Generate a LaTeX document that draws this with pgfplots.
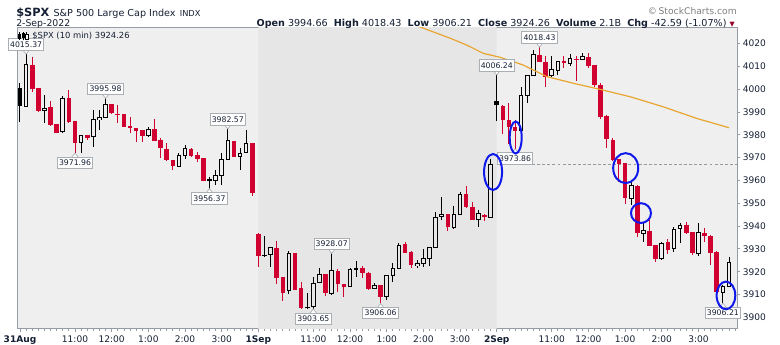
\documentclass[border=0pt]{standalone}
\usepackage{fontspec}
\setmainfont{DejaVu Sans}
\usepackage{pgfplots}
\pgfplotsset{compat=1.18}
\usepackage{pgfplotstable}

\definecolor{bgA}{RGB}{239,239,239}
\definecolor{bgB}{RGB}{230,230,230}
\definecolor{cred}{RGB}{208,0,48}
\definecolor{frm}{RGB}{150,156,163}
\definecolor{navy}{RGB}{22,32,52}
\definecolor{mac}{RGB}{232,165,48}
\definecolor{ell}{RGB}{15,25,235}
\definecolor{lblc}{RGB}{170,175,180}
\definecolor{dred}{RGB}{150,0,40}

\pgfplotstableread{
u o h l c t
0 4000.3 4002.5 3985.7 3992.6 1
1 3992.6 4015.37 3992.0 4010.6 2
2 4010.6 4014.2 3998.9 3999.9 0
3 4000.3 4000.5 3990.0 3990.6 0
4 3990.6 3997.4 3985.3 3991.6 2
5 3992.0 3994.8 3984.0 3984.3 0
6 3984.6 3984.8 3980.6 3980.9 0
7 3981.3 3997.0 3980.9 3996.0 2
8 3996.0 3999.6 3985.0 3985.7 0
9 3986.0 3986.2 3971.96 3976.5 0
10 3976.7 3979.9 3972.2 3979.7 2
11 3979.7 3980.0 3977.8 3978.4 0
12 3979.2 3990.8 3974.8 3986.5 2
13 3986.5 3990.8 3982.1 3987.6 2
14 3987.6 3995.98 3987.4 3993.5 2
15 3993.5 3993.7 3989.0 3989.4 0
16 3989.1 3993.0 3985.0 3988.8 0
17 3989.0 3989.2 3983.3 3983.5 0
18 3983.8 3987.9 3980.6 3983.0 0
19 3983.0 3983.2 3977.0 3981.8 0
20 3982.0 3982.2 3977.0 3979.5 0
21 3979.7 3983.5 3979.2 3982.4 2
22 3982.4 3986.8 3977.2 3977.4 0
23 3977.7 3978.4 3969.7 3974.0 0
24 3974.0 3976.2 3968.6 3968.9 0
25 3968.9 3969.1 3964.6 3966.3 0
26 3966.0 3972.2 3965.8 3971.1 2
27 3970.8 3975.5 3969.2 3974.0 2
28 3974.0 3974.2 3970.4 3970.7 0
29 3971.1 3972.6 3968.2 3969.4 0
30 3969.7 3969.9 3959.7 3959.9 0
31 3960.4 3961.6 3956.37 3960.1 1
32 3960.2 3964.6 3958.0 3962.1 2
33 3962.1 3971.9 3958.0 3969.2 2
34 3969.2 3982.57 3968.9 3977.3 2
35 3977.3 3977.5 3970.1 3970.4 0
36 3970.4 3974.0 3964.6 3971.9 2
37 3972.2 3982.1 3971.9 3976.3 2
38 3976.3 3976.5 3953.0 3954.4 0
39 3936.7 3936.9 3921.9 3926.9 0
40 3927.5 3935.7 3926.6 3927.1 1
41 3927.5 3930.9 3921.9 3930.7 2
42 3930.4 3933.5 3914.6 3917.4 0
43 3917.6 3917.8 3907.3 3910.8 0
44 3911.6 3929.1 3910.1 3928.0 2
45 3928.0 3928.2 3911.8 3912.0 0
46 3912.7 3915.5 3903.7 3904.0 0
47 3904.6 3910.5 3903.8 3904.3 1
48 3904.7 3917.5 3903.65 3914.9 2
49 3915.2 3921.5 3914.9 3918.9 2
50 3918.9 3919.1 3909.4 3910.5 0
51 3910.5 3928.07 3910.0 3920.5 2
52 3920.5 3921.0 3911.3 3914.5 0
53 3914.6 3914.8 3909.0 3913.5 0
54 3913.5 3921.5 3913.3 3921.0 2
55 3921.5 3924.9 3917.8 3921.2 1
56 3921.5 3922.5 3917.1 3919.6 0
57 3919.6 3919.8 3911.9 3912.4 0
58 3912.7 3915.2 3912.4 3914.0 2
59 3914.0 3914.2 3906.06 3909.0 0
60 3909.0 3918.5 3907.6 3918.3 2
61 3918.3 3923.7 3915.6 3921.5 2
62 3921.5 3932.7 3921.3 3931.6 2
63 3932.2 3933.0 3928.2 3928.4 0
64 3928.8 3929.0 3921.5 3923.0 0
65 3922.6 3925.1 3921.5 3923.7 2
66 3923.7 3929.8 3922.2 3925.6 2
67 3925.6 3930.9 3922.5 3930.7 2
68 3930.7 3946.3 3930.5 3943.8 2
69 3944.1 3952.6 3942.7 3945.2 2
70 3945.2 3945.4 3938.0 3939.5 0
71 3939.5 3948.8 3938.6 3944.9 2
72 3944.9 3955.1 3944.7 3953.9 2
73 3953.9 3957.6 3948.0 3948.2 0
74 3948.2 3950.7 3942.5 3942.7 0
75 3942.7 3947.0 3939.5 3945.3 2
76 3944.9 3945.1 3942.4 3943.8 0
77 3943.8 3969.5 3943.6 3966.85 2
78 3994.66 4006.24 3986.0 3993.2 1
79 3992.7 3993.0 3980.2 3986.5 0
80 3986.5 3993.8 3975.9 3983.3 0
81 3983.3 3986.5 3973.86 3981.8 0
82 3981.8 4001.1 3981.6 3997.4 2
83 3997.4 4005.9 3993.8 4005.8 2
84 4005.8 4017.0 4005.6 4015.0 2
85 4015.0 4018.43 4011.8 4012.0 0
86 4012.0 4014.7 4001.1 4005.5 0
87 4006.2 4014.7 4005.5 4008.7 2
88 4008.1 4012.5 4006.2 4012.0 2
89 4012.3 4014.5 4009.1 4011.3 0
90 4011.3 4015.4 4010.1 4013.5 2
91 4013.3 4014.5 4003.7 4013.0 0
92 4013.2 4015.7 4013.0 4014.2 2
93 4013.9 4015.7 4009.4 4010.3 0
94 4010.6 4010.8 4001.1 4001.8 0
95 4001.8 4002.5 3986.8 3987.6 0
96 3988.2 3988.7 3974.1 3978.0 0
97 3977.7 3978.4 3968.7 3968.9 0
98 3969.2 3969.5 3959.5 3967.1 0
99 3967.5 3967.8 3949.7 3952.2 0
100 3952.2 3960.2 3949.2 3957.6 2
101 3957.6 3957.8 3935.1 3936.8 0
102 3936.8 3941.2 3933.2 3937.9 2
103 3937.9 3944.1 3931.2 3931.4 0
104 3931.7 3931.9 3924.4 3925.6 0
105 3925.6 3933.2 3925.1 3932.4 2
106 3933.2 3934.2 3927.8 3929.5 0
107 3930.0 3939.7 3928.8 3938.3 2
108 3939.0 3941.5 3932.7 3940.2 2
109 3940.5 3941.6 3936.5 3936.8 0
110 3937.3 3937.6 3927.3 3928.1 0
111 3928.1 3941.5 3927.0 3937.3 2
112 3937.1 3939.0 3933.2 3935.7 0
113 3935.7 3935.9 3923.0 3928.4 0
114 3928.8 3929.0 3910.8 3910.9 0
115 3910.9 3914.2 3906.21 3913.5 2
116 3913.5 3926.3 3913.3 3924.26 2
}\spx

\tikzset{lbl/.style={draw=lblc, fill=white, line width=0.6pt,
  font=\fontsize{5.8}{6}\selectfont, text=navy, inner xsep=1.3pt,
  inner ysep=0pt, minimum height=8.4pt}}
\newcommand{\hilab}[3]{%
  \draw[draw=lblc, fill=white, line width=0.5pt] (axis cs:#1,#2) ++(-2.4pt,3pt) -- ++(2.4pt,-3pt) -- ++(2.4pt,3pt);
  \node[lbl, anchor=south, yshift=2.7pt] at (axis cs:#1,#2) {#3};}
\newcommand{\lolab}[3]{%
  \draw[draw=lblc, fill=white, line width=0.5pt] (axis cs:#1,#2) ++(-2.4pt,-3pt) -- ++(2.4pt,3pt) -- ++(2.4pt,-3pt);
  \node[lbl, anchor=north, yshift=-2.7pt] at (axis cs:#1,#2) {#3};}

\begin{document}
\begin{tikzpicture}
\path[use as bounding box, fill=white] (-12.75pt,-12pt) rectangle (572.25pt,246.75pt);
\begin{axis}[
  at={(0pt,0pt)}, anchor=south west,
  scale only axis, width=540pt, height=225.75pt,
  xmin=-0.49, xmax=117.31, ymin=3894.9, ymax=4026.8,
  axis background/.style={fill=bgA},
  axis line style={frm, line width=0.75pt},
  xtick={0,9,15,21,27,33,39,48,54,60,66,72,78,87,93,99,105,111},
  xticklabels={\textbf{31Aug},11:00,12:00,1:00,2:00,3:00,\textbf{1Sep},11:00,12:00,1:00,2:00,3:00,\textbf{2Sep},11:00,12:00,1:00,2:00,3:00},
  minor xtick={0,...,117},
  ytick={3900,3910,...,4020},
  xtick pos=bottom, ytick pos=right, yticklabel pos=right,
  tick align=outside,
  major tick length=2.4pt, minor tick length=1.2pt,
  tick style={frm, line width=0.6pt},
  ticklabel style={font=\fontsize{6.8}{8}\selectfont, text=navy},
  xticklabel style={yshift=1pt},
  yticklabel style={xshift=-1.5pt},
  /pgf/number format/.cd, fixed, 1000 sep={}, assume math mode=true, /pgfplots/.cd,
  scaled y ticks=false,
  clip mode=individual,
  legend style={at={(0,1)}, anchor=north west, draw=none, fill=none,
    inner sep=0pt, xshift=0.5pt, yshift=-1pt,
    font=\fontsize{6.3}{7}\selectfont, text=navy,
    /tikz/every odd column/.append style={column sep=1.2pt}},
  legend cell align=left,
]
% day 2 shading
\addplot[fill=bgB, draw=none, forget plot] coordinates {(39,3880) (78,3880) (78,4040) (39,4040) (39,3880)};
% previous close dashed
\addplot[forget plot, color=gray!80, line width=0.6pt, dash pattern=on 2.2pt off 1.6pt] coordinates {(78,3966.85) (118,3966.85)};
% wicks
\addplot[draw=none, mark=none, forget plot, restrict expr to domain={\thisrow{t}}{0:0},
  error bars/y dir=both, error bars/y explicit, error bars/error mark=none,
  error bars/error bar style={draw=cred, line width=0.75pt}]
  table[x=u, y expr={(\thisrow{h}+\thisrow{l})/2}, y error expr={(\thisrow{h}-\thisrow{l})/2}] {\spx};
\addplot[draw=none, mark=none, forget plot, restrict expr to domain={\thisrow{t}}{1:2},
  error bars/y dir=both, error bars/y explicit, error bars/error mark=none,
  error bars/error bar style={draw=black, line width=0.75pt}]
  table[x=u, y expr={(\thisrow{h}+\thisrow{l})/2}, y error expr={(\thisrow{h}-\thisrow{l})/2}] {\spx};
% bodies
\addplot[draw=none, mark=none, forget plot, restrict expr to domain={\thisrow{t}}{0:0},
  error bars/y dir=both, error bars/y explicit, error bars/error mark=none,
  error bars/error bar style={draw=cred, line width=3.45pt}]
  table[x=u, y expr={(\thisrow{o}+\thisrow{c})/2}, y error expr={max(abs(\thisrow{o}-\thisrow{c})/2,0.25)}] {\spx};
\addplot[draw=none, mark=none, forget plot, restrict expr to domain={\thisrow{t}}{1:1},
  error bars/y dir=both, error bars/y explicit, error bars/error mark=none,
  error bars/error bar style={draw=black, line width=3.45pt}]
  table[x=u, y expr={(\thisrow{o}+\thisrow{c})/2}, y error expr={max(abs(\thisrow{o}-\thisrow{c})/2,0.25)}] {\spx};
\addplot[draw=none, mark=none, forget plot, restrict expr to domain={\thisrow{t}}{2:2},
  error bars/y dir=both, error bars/y explicit, error bars/error mark=none,
  error bars/error bar style={draw=black, line width=3.45pt}]
  table[x=u, y expr={(\thisrow{o}+\thisrow{c})/2}, y error expr={abs(\thisrow{o}-\thisrow{c})/2+0.22}] {\spx};
\addplot[draw=none, mark=none, forget plot, restrict expr to domain={\thisrow{t}*1000+\thisrow{u}}{2000:2038},
  error bars/y dir=both, error bars/y explicit, error bars/error mark=none,
  error bars/error bar style={draw=bgA, line width=1.95pt}]
  table[x=u, y expr={(\thisrow{o}+\thisrow{c})/2}, y error expr={max(abs(\thisrow{o}-\thisrow{c})/2-0.22,0)}] {\spx};
\addplot[draw=none, mark=none, forget plot, restrict expr to domain={\thisrow{t}*1000+\thisrow{u}}{2039:2077},
  error bars/y dir=both, error bars/y explicit, error bars/error mark=none,
  error bars/error bar style={draw=bgB, line width=1.95pt}]
  table[x=u, y expr={(\thisrow{o}+\thisrow{c})/2}, y error expr={max(abs(\thisrow{o}-\thisrow{c})/2-0.22,0)}] {\spx};
\addplot[draw=none, mark=none, forget plot, restrict expr to domain={\thisrow{t}*1000+\thisrow{u}}{2078:2116},
  error bars/y dir=both, error bars/y explicit, error bars/error mark=none,
  error bars/error bar style={draw=bgA, line width=1.95pt}]
  table[x=u, y expr={(\thisrow{o}+\thisrow{c})/2}, y error expr={max(abs(\thisrow{o}-\thisrow{c})/2-0.22,0)}] {\spx};
% moving average
\addplot[mac, line width=0.9pt, forget plot] coordinates {
(62,4030.7) (66.8,4025.9) (70.4,4022.3) (73.1,4019.3) (75.8,4015.7) (78.5,4014.0)
(82.3,4010.6) (86.2,4005.5) (90.5,4002.6) (94.9,3999.9) (99.8,3996.7)
(105.2,3992.3) (110.7,3987.2) (116,3983.1)};
% legend
\addlegendimage{legend image code/.code={
  \draw[black, line width=0.45pt] (0.8pt,-3pt) -- (0.8pt,3pt);
  \fill[black] (0pt,-1.4pt) rectangle (1.6pt,1.8pt);
  \draw[black, line width=0.45pt] (3.6pt,-3pt) -- (3.6pt,3pt);
  \fill[black] (2.8pt,-0.8pt) rectangle (4.4pt,2.2pt);
  \draw[black, line width=0.45pt] (6.4pt,-3pt) -- (6.4pt,3pt);
  \draw[black, line width=0.4pt, fill=white] (5.6pt,-1.8pt) rectangle (7.2pt,1.6pt);
}}
\addlegendentry{\$SPX (10 min) 3924.26}
% labels
\hilab{1}{4015.37}{4015.37}
\hilab{14}{3995.98}{3995.98}
\hilab{34}{3982.57}{3982.57}
\hilab{51}{3928.07}{3928.07}
\hilab{78}{4006.24}{4006.24}
\hilab{85}{4018.43}{4018.43}
\lolab{9}{3971.96}{3971.96}
\lolab{31}{3956.37}{3956.37}
\lolab{48}{3903.65}{3903.65}
\lolab{59}{3906.06}{3906.06}
\lolab{81}{3973.86}{3973.86}
\lolab{115}{3906.21}{3906.21}
% annotation ellipses
\draw[ell, line width=1.5pt] (axis cs:77.4,3963.7) ellipse [x radius=6.75pt, y radius=13.5pt];
\draw[ell, line width=1.5pt] (axis cs:81.1,3978.8) ellipse [x radius=4.5pt, y radius=12pt];
\draw[ell, line width=1.5pt] (axis cs:99.1,3965.4) ellipse [x radius=9.4pt, y radius=11.25pt];
\draw[ell, line width=1.5pt] (axis cs:101.6,3945.7) ellipse [x radius=7.5pt, y radius=7.4pt];
\draw[ell, line width=1.5pt] (axis cs:115.5,3909.6) ellipse [x radius=7pt, y radius=10.4pt];
\end{axis}
% header
\node[anchor=base west, inner sep=0pt, text=navy] at (-0.75pt,234.4pt)
  {{\fontsize{8.5}{10}\selectfont\bfseries \$SPX} {\fontsize{7.2}{8}\selectfont S\&P 500 Large Cap Index} {\fontsize{6.2}{7}\selectfont INDX}};
\node[anchor=base west, inner sep=0pt, text=navy, font=\fontsize{7}{8}\selectfont] at (-0.75pt,226.6pt) {2-Sep-2022};
\node[anchor=base east, inner sep=0pt, text=gray, font=\fontsize{6.9}{8}\selectfont] at (540pt,235.6pt) {©\,StockCharts.com};
\node[anchor=base east, inner sep=0pt, text=navy, font=\fontsize{7.2}{8}\selectfont] at (538.5pt,227.1pt)
  {\textbf{Open} 3994.66\ \ \textbf{High} 4018.43\ \ \textbf{Low} 3906.21\ \ \textbf{Close} 3924.26\ \ \textbf{Volume} 2.1B\ \ \textbf{Chg} -42.59 (-1.07\%) {\color{dred}\fontsize{5}{6}\selectfont ▼}};
\end{tikzpicture}
\end{document}
